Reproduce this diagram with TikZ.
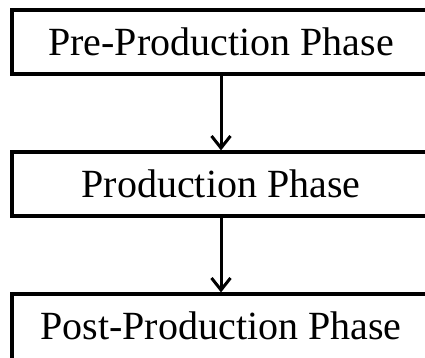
\documentclass[tikz,border=0pt]{standalone}
\usepackage{fontspec}
\setmainfont{Liberation Serif}
\usetikzlibrary{arrows.meta}
\begin{document}
\begin{tikzpicture}[x=1pt,y=-1pt,
  phasebox/.style={draw, line width=3.2pt, rectangle, minimum width=418pt, minimum height=64pt,
    inner sep=0pt, text height=26pt, text depth=0pt, font=\fontsize{40}{48}\selectfont},
  flow/.style={line width=3pt, -{Straight Barb[length=12pt,width=19pt,line width=3pt]}}]
\useasboundingbox (0,0) rectangle (425,357);
\clip (0,0) rectangle (425,357);
\node[phasebox] (pre) at (221,42) {Pre-Production Phase};
\node[phasebox] (prod) at (221,184) {Production Phase};
\node[phasebox, minimum height=80pt, text depth=16pt] (post) at (221,334) {Post-Production Phase};
\draw[flow] (pre.south) -- (prod.north);
\draw[flow] (prod.south) -- (post.north);
\end{tikzpicture}
\end{document}
